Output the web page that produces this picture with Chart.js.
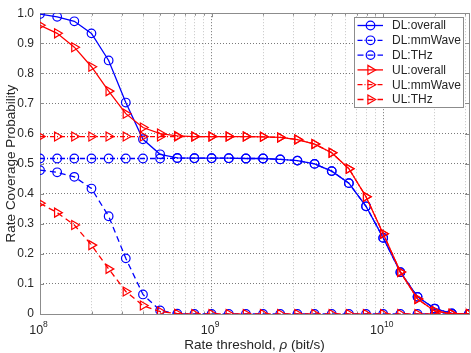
<!DOCTYPE html>
<html>
<head>
<meta charset="utf-8">
<script src="https://cdn.jsdelivr.net/npm/chart.js@4.4.0/dist/chart.umd.min.js"></script>
<style>
html, body { margin: 0; padding: 0; background: #fff; }
canvas { display: block; }
</style>
</head>
<body>
<canvas id="myChart" width="471" height="353"></canvas>
<script>
// rate threshold (bit/s), 10 points per decade
const rates = [1e8, 1.259e8, 1.585e8, 1.995e8, 2.512e8, 3.162e8, 3.981e8, 5.012e8, 6.310e8, 7.943e8,
  1e9, 1.259e9, 1.585e9, 1.995e9, 2.512e9, 3.162e9, 3.981e9, 5.012e9, 6.310e9, 7.943e9,
  1e10, 1.259e10, 1.585e10, 1.995e10, 2.512e10, 3.162e10];

const dlOverall = [0.997, 0.988, 0.973, 0.933, 0.843, 0.703, 0.581, 0.531, 0.519, 0.518,
  0.518, 0.518, 0.517, 0.517, 0.514, 0.510, 0.499, 0.475, 0.435, 0.358,
  0.253, 0.139, 0.057, 0.018, 0.002, 0];
const dlMmWave = [0.517, 0.517, 0.517, 0.517, 0.517, 0.517, 0.517, 0.517, 0.518, 0.518,
  0.518, 0.518, 0.517, 0.517, 0.514, 0.510, 0.499, 0.475, 0.435, 0.358,
  0.253, 0.139, 0.057, 0.018, 0.002, 0];
const dlThz = [0.478, 0.471, 0.456, 0.417, 0.325, 0.185, 0.065, 0.012, 0.001, 0,
  0, 0, 0, 0, 0, 0, 0, 0, 0, 0,
  0, 0, 0, 0, 0, 0];
const ulOverall = [0.960, 0.933, 0.887, 0.822, 0.741, 0.666, 0.620, 0.600, 0.592, 0.590,
  0.590, 0.590, 0.590, 0.589, 0.587, 0.580, 0.565, 0.536, 0.483, 0.390,
  0.267, 0.140, 0.050, 0.010, 0.001, 0];
const ulMmWave = [0.590, 0.590, 0.590, 0.590, 0.590, 0.590, 0.590, 0.590, 0.590, 0.590,
  0.590, 0.590, 0.590, 0.589, 0.587, 0.580, 0.565, 0.536, 0.483, 0.390,
  0.267, 0.140, 0.050, 0.010, 0.001, 0];
const ulThz = [0.368, 0.337, 0.296, 0.229, 0.150, 0.075, 0.028, 0.008, 0.001, 0,
  0, 0, 0, 0, 0, 0, 0, 0, 0, 0,
  0, 0, 0, 0, 0, 0];

const seriesNames = ['DL:overall', 'DL:mmWave', 'DL:THz', 'UL:overall', 'UL:mmWave', 'UL:THz'];
const xDecades = [1e8, 1e9, 1e10];
const xTickExp = ['8', '9', '10'];
const xTitle = ['Rate threshold, ', '\u03C1', ' (bit/s)'];
const yTitle = 'Rate Coverage Probability';

const FONT = "'Liberation Sans', Arial, Helvetica, sans-serif";
const BLUE = '#0000ff';
const RED = '#ff0000';

function series(label, values, color, dash, marker, ord) {
  return {
    label: label,
    data: values.map((v, i) => ({ x: rates[i], y: v })),
    borderColor: color,
    backgroundColor: 'rgba(0,0,0,0)',
    borderWidth: 1.3,
    borderDash: dash,
    tension: 0,
    pointStyle: marker,
    pointRotation: marker === 'triangle' ? 90 : 0,
    pointRadius: marker === 'triangle' ? 5.2 : 4.3,
    pointBorderWidth: 1.2,
    pointBorderColor: color,
    pointBackgroundColor: 'rgba(0,0,0,0)',
    order: ord
  };
}

const solid = [];
const dashDot = [5, 2, 1, 2];
const dashed = [6, 4];

const datasets = [
  series(seriesNames[0], dlOverall, BLUE, solid, 'circle', 5),
  series(seriesNames[1], dlMmWave, BLUE, dashDot, 'circle', 4),
  series(seriesNames[2], dlThz, BLUE, dashed, 'circle', 3),
  series(seriesNames[3], ulOverall, RED, solid, 'triangle', 2),
  series(seriesNames[4], ulMmWave, RED, dashDot, 'triangle', 1),
  series(seriesNames[5], ulThz, RED, dashed, 'triangle', 0)
];

function isDecade(v) {
  const l = Math.log10(v);
  return Math.abs(l - Math.round(l)) < 1e-9;
}

// box, inward tick marks, legend and axis texts
const decorations = {
  id: 'decorations',
  beforeDatasetsDraw(chart) {
    const { ctx, chartArea: a, scales } = chart;
    ctx.save();
    ctx.strokeStyle = '#8c8c8c';
    ctx.lineWidth = 1;
    ctx.setLineDash([]);
    ctx.beginPath();
    scales.y.ticks.forEach(t => {
      const y = Math.round(scales.y.getPixelForValue(t.value)) + 0.5;
      ctx.moveTo(a.left, y); ctx.lineTo(a.left + 4, y);
      ctx.moveTo(a.right, y); ctx.lineTo(a.right - 4, y);
    });
    scales.x.ticks.forEach(t => {
      const x = Math.round(scales.x.getPixelForValue(t.value)) + 0.5;
      const len = isDecade(t.value) ? 4 : 2.5;
      ctx.moveTo(x, a.bottom); ctx.lineTo(x, a.bottom - len);
      ctx.moveTo(x, a.top); ctx.lineTo(x, a.top + len);
    });
    ctx.stroke();
    ctx.strokeRect(Math.round(a.left) + 0.5, Math.round(a.top) + 0.5,
      Math.round(a.right - a.left), Math.round(a.bottom - a.top));
    ctx.restore();
  },
  afterDraw(chart) {
    const { ctx, chartArea: a, scales } = chart;
    ctx.save();
    ctx.fillStyle = '#262626';

    // x tick labels 10^n
    xDecades.forEach((v, i) => {
      const x = scales.x.getPixelForValue(v);
      ctx.font = '12.5px ' + FONT;
      const w1 = ctx.measureText('10').width;
      ctx.font = '8.5px ' + FONT;
      const w2 = ctx.measureText(xTickExp[i]).width;
      const start = x - 1.5 - (w1 + w2) / 2;
      ctx.textAlign = 'left';
      ctx.textBaseline = 'alphabetic';
      ctx.font = '12.5px ' + FONT;
      ctx.fillText('10', start, 333.5);
      ctx.font = '8.5px ' + FONT;
      ctx.fillText(xTickExp[i], start + w1, 326.5);
    });

    // x title with italic rho
    const fonts = ['13.5px ' + FONT, 'italic 13.5px ' + FONT, '13.5px ' + FONT];
    let total = 0;
    const widths = xTitle.map((s, i) => { ctx.font = fonts[i]; const w = ctx.measureText(s).width; total += w; return w; });
    let xx = (a.left + a.right) / 2 - total / 2;
    ctx.textAlign = 'left';
    ctx.textBaseline = 'alphabetic';
    xTitle.forEach((s, i) => { ctx.font = fonts[i]; ctx.fillText(s, xx, 349); xx += widths[i]; });

    // y title
    ctx.save();
    ctx.translate(15, (a.top + a.bottom) / 2);
    ctx.rotate(-Math.PI / 2);
    ctx.font = '13.5px ' + FONT;
    ctx.textAlign = 'center';
    ctx.textBaseline = 'alphabetic';
    ctx.fillText(yTitle, 0, 0);
    ctx.restore();

    // legend
    const bx = 354.5, by = 17.5, bw = 109, bh = 90;
    ctx.fillStyle = '#ffffff';
    ctx.fillRect(bx, by, bw, bh);
    ctx.strokeStyle = '#8c8c8c';
    ctx.lineWidth = 1;
    ctx.strokeRect(bx, by, bw, bh);
    chart.data.datasets.forEach((ds, i) => {
      const y = 25.5 + i * 14.8;
      ctx.strokeStyle = ds.borderColor;
      ctx.lineWidth = ds.borderWidth;
      ctx.setLineDash(ds.borderDash);
      ctx.beginPath();
      ctx.moveTo(357.5, y);
      ctx.lineTo(383, y);
      ctx.stroke();
      ctx.setLineDash([]);
      ctx.lineWidth = ds.pointBorderWidth;
      ctx.fillStyle = 'rgba(0,0,0,0)';
      Chart.helpers.drawPoint(ctx, {
        pointStyle: ds.pointStyle,
        rotation: ds.pointRotation,
        radius: ds.pointRadius,
        borderWidth: ds.pointBorderWidth
      }, 370.5, y);
      ctx.fillStyle = '#262626';
      ctx.font = '12px ' + FONT;
      ctx.textAlign = 'left';
      ctx.textBaseline = 'middle';
      ctx.fillText(ds.label, 392, y + 0.5);
    });
    ctx.restore();
  }
};

const ctx = document.getElementById('myChart').getContext('2d');
const myChart = new Chart(ctx, {
  type: 'line',
  data: { datasets: datasets },
  options: {
    responsive: false,
    animation: false,
    events: [],
    layout: { autoPadding: false, padding: { top: 0, right: 2, left: 0, bottom: 0 } },
    plugins: { legend: { display: false }, tooltip: { enabled: false } },
    scales: {
      x: {
        type: 'logarithmic',
        min: rates[0],
        max: rates[rates.length - 1],
        afterBuildTicks: scale => {
          const t = [];
          xDecades.forEach(d => {
            for (let m = 1; m <= 9; m++) {
              const v = m * d;
              if (v <= scale.max * 1.0001) t.push({ value: v });
            }
          });
          scale.ticks = t;
        },
        afterFit: scale => { scale.height = 39; },
        ticks: { display: false },
        grid: {
          drawTicks: false,
          lineWidth: 1,
          color: c => (c.tick && isDecade(c.tick.value)) ? '#6e6e6e' : '#c4c4c4'
        },
        border: { display: false, dash: [1, 2] }
      },
      y: {
        min: 0,
        max: 1,
        afterFit: scale => { scale.width = 40; },
        ticks: {
          stepSize: 0.1,
          padding: 6,
          color: '#262626',
          font: { family: FONT, size: 12 }
        },
        grid: { drawTicks: false, lineWidth: 1, color: '#7a7a7a' },
        border: { display: false, dash: [1, 2] }
      }
    }
  },
  plugins: [decorations]
});
</script>
</body>
</html>
